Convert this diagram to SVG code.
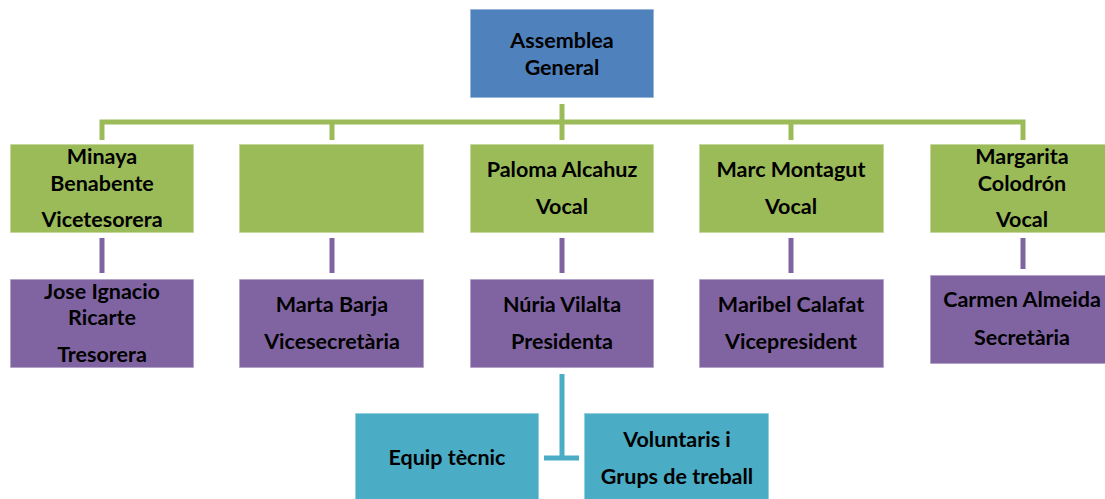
<svg xmlns="http://www.w3.org/2000/svg" width="1105" height="499" viewBox="0 0 1105 499">
<style>
.box{stroke:#ffffff;stroke-opacity:0.55;stroke-width:1.5}
.blue{fill:#4F81BD}
.green{fill:#9BBB59}
.purple{fill:#8064A2}
.teal{fill:#4BACC6}
text{font-family:Lato,"Open Sans","Liberation Sans",sans-serif;font-weight:bold;font-size:21.5px;fill:#000;text-anchor:middle}
.lg{stroke:#9BBB59;stroke-width:5;fill:none}
.lp{stroke:#8064A2;stroke-width:5;fill:none}
.lt{stroke:#4BACC6;stroke-width:5;fill:none}
</style>
<rect width="1105" height="499" fill="#ffffff"/>
<g id="connectors">
<path class="lg" d="M562 104V140M102 140V122H1023V140M332 122V140M791 122V140"/>
<path class="lp" d="M102 238V273M332 238V273M562 238V273M791 238V273M1023 238V269"/>
<path class="lt" d="M562 374V458M544 458H579"/>
</g>
<g id="n-assemblea"><rect class="box blue" x="470" y="9" width="184" height="89"/><text x="562" y="48">Assemblea</text><text x="562" y="75">General</text></g>
<g id="n-minaya"><rect class="box green" x="10" y="144" width="184" height="89"/><text x="102" y="164">Minaya</text><text x="102" y="191">Benabente</text><text x="102" y="227">Vicetesorera</text></g>
<g id="n-empty"><rect class="box green" x="239" y="144" width="185" height="89"/></g>
<g id="n-paloma"><rect class="box green" x="470" y="144" width="184" height="89"/><text x="562" y="177">Paloma Alcahuz</text><text x="562" y="214">Vocal</text></g>
<g id="n-marc"><rect class="box green" x="699" y="144" width="185" height="89"/><text x="791" y="177">Marc Montagut</text><text x="791" y="214">Vocal</text></g>
<g id="n-margarita"><rect class="box green" x="930" y="144" width="184" height="89"/><text x="1022" y="164">Margarita</text><text x="1022" y="191">Colodrón</text><text x="1022" y="227">Vocal</text></g>
<g id="n-jose"><rect class="box purple" x="10" y="279" width="184" height="89"/><text x="102" y="299">Jose Ignacio</text><text x="102" y="325">Ricarte</text><text x="102" y="362">Tresorera</text></g>
<g id="n-marta"><rect class="box purple" x="239" y="279" width="185" height="89"/><text x="332" y="312">Marta Barja</text><text x="332" y="349">Vicesecretària</text></g>
<g id="n-nuria"><rect class="box purple" x="470" y="279" width="184" height="89"/><text x="562" y="312">Núria Vilalta</text><text x="562" y="349">Presidenta</text></g>
<g id="n-maribel"><rect class="box purple" x="699" y="279" width="185" height="89"/><text x="791" y="312">Maribel Calafat</text><text x="791" y="349">Vicepresident</text></g>
<g id="n-carmen"><rect class="box purple" x="930" y="275" width="184" height="89"/><text x="1022" y="307">Carmen Almeida</text><text x="1022" y="345">Secretària</text></g>
<g id="n-equip"><rect class="box teal" x="355" y="413" width="184" height="90"/><text x="447" y="465">Equip tècnic</text></g>
<g id="n-voluntaris"><rect class="box teal" x="584" y="413" width="185" height="90"/><text x="677" y="447">Voluntaris i</text><text x="677" y="484">Grups de treball</text></g>
</svg>
